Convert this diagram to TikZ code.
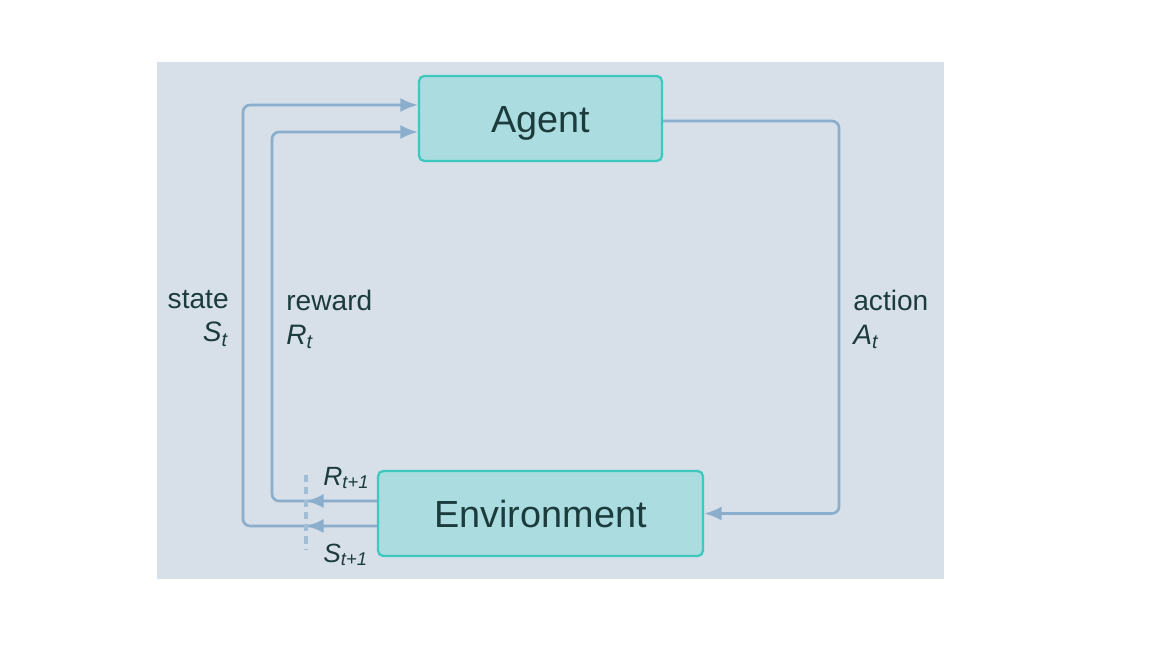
\documentclass[tikz,border=0pt]{standalone}
\usepackage{fontspec}
\setmainfont{Liberation Sans}
\usetikzlibrary{arrows.meta}
\definecolor{panelbg}{HTML}{D7DFE8}
\definecolor{boxfill}{HTML}{AADCE0}
\definecolor{boxline}{HTML}{3DC9BF}
\definecolor{flowcol}{HTML}{8AAECB}
\definecolor{txtcol}{HTML}{1C3B3C}
\tikzset{
  unit/.style={draw=boxline, fill=boxfill, line width=1.3pt, rounded corners=3pt,
    text=txtcol, font=\fontsize{21.5}{26}\selectfont, inner sep=0pt},
  flow/.style={draw=flowcol, line width=1.5pt, rounded corners=4pt},
  tip/.style={-{Latex[length=10pt,width=8pt]}},
  lbl/.style={text=txtcol, font=\fontsize{16}{19}\selectfont, inner sep=0pt},
  sublbl/.style={text=txtcol, font=\fontsize{15}{18}\selectfont, inner sep=0pt}
}
\begin{document}
\begin{tikzpicture}[x=0.02cm, y=-0.02cm]
	\useasboundingbox (0,0) rectangle (1152,648);
	\fill[panelbg] (157,62) rectangle (944,579);

	\node[unit, minimum width=4.86cm, minimum height=1.7cm, text height=0.7cm, text depth=0.12cm] (agent) at (540.5,118.5) {Agent};
	\node[unit, minimum width=6.5cm, minimum height=1.7cm] (env) at (540.5,513.5) {Environment};

	% turning columns and ports
	\coordinate (colS) at (243,0);
	\coordinate (colR) at (272,0);
	\coordinate (colA) at (839,0);
	\coordinate (agS) at ([yshift=0.27cm]agent.west);
	\coordinate (agR) at ([yshift=-0.27cm]agent.west);
	\coordinate (agA) at ([yshift=-0.05cm]agent.east);
	\coordinate (envR) at ([yshift=0.25cm]env.west);
	\coordinate (envS) at ([yshift=-0.25cm]env.west);
	\coordinate (cutT) at (306,475);
	\coordinate (cutB) at (306,550);

	% action
	\draw[flow, tip] (agA) -- (agA -| colA) -- (env.east -| colA) -- (env.east);

	% state and reward
	\draw[flow, tip] (envS) -- (envS -| colS) -- (agS -| colS) -- (agS);
	\draw[flow, tip] (envR) -- (envR -| colR) -- (agR -| colR) -- (agR);
	\draw[flow, tip] (envS) -- (envS -| cutT);
	\draw[flow, tip] (envR) -- (envR -| cutT);
	\draw[flowcol!80!white, line width=2pt, dash pattern=on 4pt off 3pt] (cutT) -- (cutB);

	\node[lbl, anchor=north east, align=right] (stateLbl) at (229,290) {state\\\textit{S}\textsubscript{\textit{t}}};
	\node[lbl, anchor=north west, align=left] (rewardLbl) at (286,290) {reward\\\textit{R}\textsubscript{\textit{t}}};
	\node[lbl, anchor=north west, align=left] (actionLbl) at (853,290) {action\\\textit{A}\textsubscript{\textit{t}}};
	\node[sublbl, anchor=base west] (rNext) at (323,485) {\textit{R}\textsubscript{\textit{t+1}}};
	\node[sublbl, anchor=base west] (sNext) at (323,562) {\textit{S}\textsubscript{\textit{t+1}}};
\end{tikzpicture}
\end{document}
